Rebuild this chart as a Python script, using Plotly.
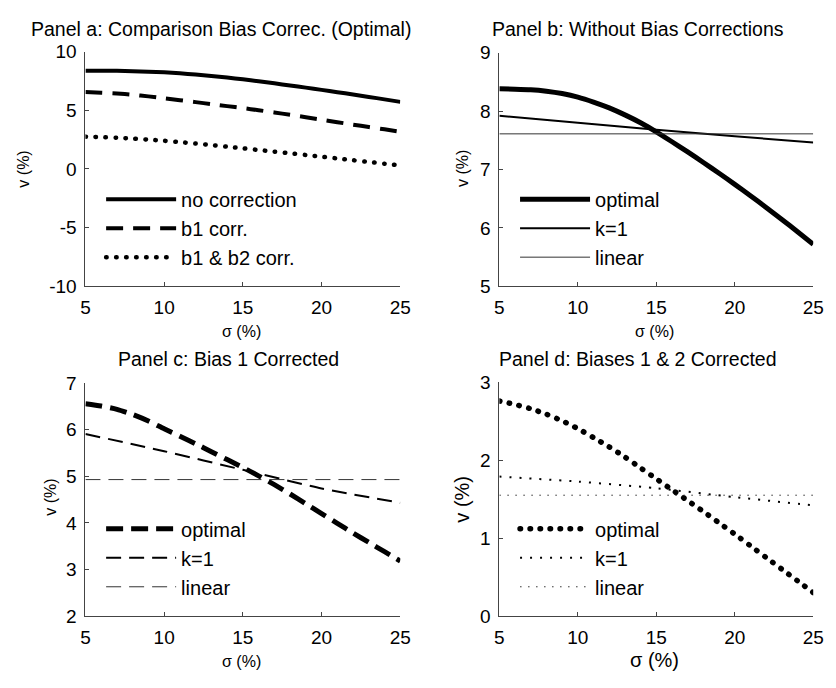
import plotly.graph_objects as go

# ---------------- data ----------------
sigma = [5, 6, 7, 8, 9, 10, 11, 12, 13, 14, 15, 16, 17, 18, 19, 20, 21, 22, 23, 24, 25]
sigma_k = [5, 10, 15, 20, 25]
sigma_lin = [5, 25]

# optimal strategy, by bias correction
opt_none = [8.38, 8.375, 8.365, 8.34, 8.30, 8.24, 8.155, 8.055, 7.935, 7.80, 7.645,
            7.475, 7.30, 7.12, 6.935, 6.745, 6.55, 6.35, 6.145, 5.935, 5.72]
opt_b1 = [6.56, 6.51, 6.44, 6.33, 6.19, 6.02, 5.86, 5.70, 5.53, 5.36, 5.19,
          5.01, 4.82, 4.62, 4.41, 4.20, 3.99, 3.78, 3.58, 3.38, 3.18]
opt_b12 = [2.76, 2.715, 2.66, 2.59, 2.505, 2.405, 2.29, 2.17, 2.04, 1.90, 1.76,
           1.62, 1.48, 1.34, 1.195, 1.05, 0.90, 0.75, 0.60, 0.45, 0.30]

# k = 1 strategy
k1_none = [7.92, 7.80, 7.68, 7.57, 7.46]
k1_b1 = [5.91, 5.54, 5.14, 4.74, 4.43]
k1_b12 = [1.79, 1.725, 1.64, 1.525, 1.42]

# linear strategy
lin_none = [7.61, 7.61]
lin_b1 = [4.93, 4.93]
lin_b12 = [1.55, 1.55]

x_ticks = [5, 10, 15, 20, 25]
ya_tickvals = [-10, -5, 0, 5, 10]
ya_ticktext = ["-10", "-5", "0", "5", "10"]
panel_titles = ["Panel a: Comparison Bias Correc. (Optimal)",
                "Panel b: Without Bias Corrections",
                "Panel c: Bias 1 Corrected",
                "Panel d: Biases 1 & 2 Corrected"]
legend_a = ["no correction", "b1 corr.", "b1 & b2 corr."]
legend_bcd = ["optimal", "k=1", "linear"]

# ---------------- layout geometry ----------------
W, H = 836, 688
FONT = "Liberation Sans, Arial, sans-serif"


def px_x(p):
    return p / W


def px_y(p):
    return 1 - p / H


dom = {
    "a": ([px_x(82), px_x(403)], [px_y(285), px_y(43)]),
    "b": ([px_x(504), px_x(824)], [px_y(285), px_y(44)]),
    "c": ([px_x(82), px_x(403)], [px_y(625), px_y(385)]),
    "d": ([px_x(504), px_x(824)], [px_y(625), px_y(384)]),
}
yranges = {"a": [-10, 10], "b": [5, 9], "c": [2, 7], "d": [0, 3]}
ydticks = {"a": 5, "b": 1, "c": 1, "d": 1}
axis_ids = {"a": ("x", "y"), "b": ("x2", "y2"), "c": ("x3", "y3"), "d": ("x4", "y4")}
legend_ids = {"a": "legend", "b": "legend2", "c": "legend3", "d": "legend4"}

fig = go.Figure()


def add(panel, x, y, name, width, dash, color="black"):
    xa, ya = axis_ids[panel]
    fig.add_trace(go.Scatter(
        x=x, y=y, name=name, mode="lines",
        line=dict(color=color, width=width, dash=dash, shape="spline", smoothing=0.6),
        xaxis=xa, yaxis=ya, legend=legend_ids[panel], hoverinfo="skip"))


ROUND_DOT_BIG = "0.5px,9.5px"
# panel a
add("a", sigma, opt_none, legend_a[0], 4, "solid")
add("a", sigma, opt_b1, legend_a[1], 4, "17px,10px")
add("a", sigma, opt_b12, legend_a[2], 4.5, ROUND_DOT_BIG)
# panel b
add("b", sigma, opt_none, legend_bcd[0], 5, "solid")
add("b", sigma_k, k1_none, legend_bcd[1], 2, "solid")
add("b", sigma_lin, lin_none, legend_bcd[2], 1, "solid", "#333")
# panel c
add("c", sigma, opt_b1, legend_bcd[0], 5, "17px,8px")
add("c", sigma_k, k1_b1, legend_bcd[1], 2, "15px,8px")
add("c", sigma_lin, lin_b1, legend_bcd[2], 1, "15px,8px", "#333")
# panel d
add("d", sigma, opt_b12, legend_bcd[0], 5.5, ROUND_DOT_BIG)
add("d", sigma_k, k1_b12, legend_bcd[1], 2, "2px,8px")
add("d", sigma_lin, lin_b12, legend_bcd[2], 1, "1.5px,6.5px", "#333")

layout = dict(
    width=W, height=H,
    margin=dict(l=0, r=0, t=0, b=0),
    paper_bgcolor="white", plot_bgcolor="white",
    font=dict(family=FONT, color="black"),
    showlegend=True,
)

for p in "abcd":
    xa, ya = axis_ids[p]
    xk = "xaxis" + xa[1:]
    yk = "yaxis" + ya[1:]
    layout[xk] = dict(domain=dom[p][0], range=[5, 25], tickvals=x_ticks,
                      ticks="inside", ticklen=4, tickcolor="#444",
                      showline=True, linecolor="#444", linewidth=1,
                      showgrid=False, zeroline=False, anchor=ya,
                      ticklabelstandoff=4,
                      tickfont=dict(size=19, family=FONT, color="black"))
    ydict = dict(domain=dom[p][1], range=yranges[p], dtick=ydticks[p], tick0=0,
                 ticks="inside", ticklen=4, tickcolor="#444",
                 showline=True, linecolor="#444", linewidth=1,
                 showgrid=False, zeroline=False, anchor=xa,
                 ticklabelstandoff=4,
                 tickfont=dict(size=19, family=FONT, color="black"))
    if p == "a":
        ydict.update(tickvals=ya_tickvals, ticktext=ya_ticktext)
    layout[yk] = ydict

leg_pos = {"a": (98, 175), "b": (520, 175), "c": (98, 515), "d": (520, 515)}
for p in "abcd":
    lx, ly = leg_pos[p]
    layout[legend_ids[p]] = dict(x=px_x(lx), y=px_y(ly), xanchor="left", yanchor="top",
                                 bgcolor="rgba(0,0,0,0)", borderwidth=0,
                                 itemwidth=70, font=dict(size=20, family=FONT),
                                 tracegroupgap=0)

fig.update_layout(**layout)

ann = []
title_pos = [(220, 20), (645, 20), (228, 360), (645, 360)]
for t, (tx, ty) in zip(panel_titles, title_pos):
    ann.append(dict(text=t, x=px_x(tx), y=px_y(ty), xref="paper", yref="paper",
                    showarrow=False, xanchor="center", yanchor="middle",
                    font=dict(size=19.5, family=FONT)))
xt_pos = [(241, 332, 16), (662, 332, 16), (241, 672, 16), (662, 670, 20)]
for (tx, ty, fs) in xt_pos:
    ann.append(dict(text="σ (%)", x=px_x(tx), y=px_y(ty), xref="paper", yref="paper",
                    showarrow=False, xanchor="center", yanchor="middle",
                    font=dict(size=fs, family=FONT), borderpad=0))
yt_pos = [(19, 164, 16), (467, 164, 16), (47, 503, 16), (466, 505, 20)]
for (tx, ty, fs) in yt_pos:
    ann.append(dict(text="v (%)", x=px_x(tx), y=px_y(ty), xref="paper", yref="paper",
                    showarrow=False, xanchor="center", yanchor="middle", textangle=-90,
                    font=dict(size=fs, family=FONT), borderpad=0))
fig.update_layout(annotations=ann)

post = """
var gd = document.getElementById('{plot_id}');
function roundDots(){
  gd.querySelectorAll('path.js-line').forEach(function(p){
    var d = p.style.strokeDasharray || '';
    if (d.indexOf('0.5px') === 0) { p.style.strokeLinecap = 'round'; }
  });
}
roundDots();
if (gd.on) { gd.on('plotly_afterplot', roundDots); }
"""
fig.write_html("out.html", post_script=post)
